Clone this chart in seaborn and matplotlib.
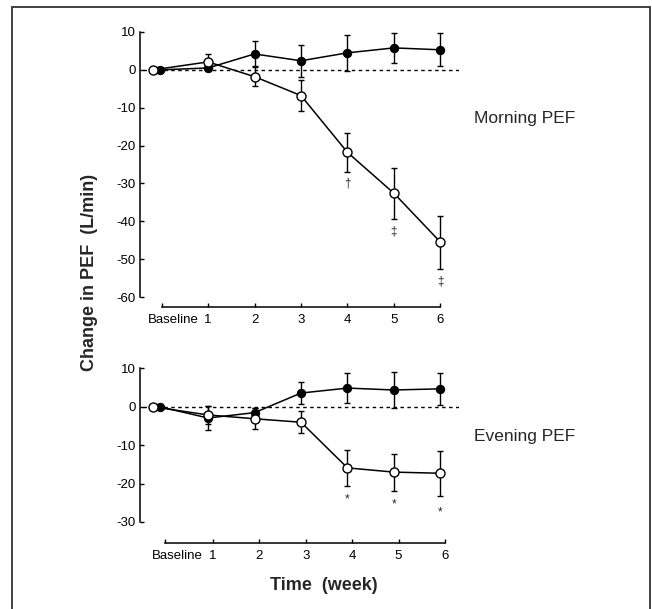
import numpy as np
import pandas as pd
import matplotlib
matplotlib.use('Agg')
import matplotlib.pyplot as plt
import matplotlib.transforms as mtransforms
from matplotlib.patches import Rectangle
import seaborn as sns

# x positions: 0 = baseline, 1..6 = weeks
weeks = [0, 1, 2, 3, 4, 5, 6]
tick_labels = ["Baseline", "1", "2", "3", "4", "5", "6"]

# Morning PEF (change, L/min)
morning_filled = [0, 0.5, 4.2, 2.4, 4.5, 5.8, 5.3]
morning_filled_err = [0, 0, 3.3, 4.2, 4.7, 4.0, 4.4]
morning_open = [0, 2.1, -1.8, -6.8, -21.8, -32.6, -45.5]
morning_open_err = [0, 2.0, 2.5, 4.0, 5.2, 6.7, 7.0]
morning_marks = ["", "", "", "", "\u2020", "\u2021", "\u2021"]
morning_mark_y = [0, 0, 0, 0, -30.0, -42.6, -55.8]

# Evening PEF (change, L/min)
evening_filled = [0, -2.9, -1.5, 3.6, 4.9, 4.4, 4.7]
evening_filled_err = [0, 3.0, 1.3, 2.9, 3.9, 4.8, 4.1]
evening_open = [0, -2.1, -3.1, -4.0, -15.9, -17.0, -17.3]
evening_open_err = [0, 2.4, 2.7, 2.8, 4.6, 4.8, 5.8]
evening_marks = ["", "", "", "", "*", "*", "*"]
evening_mark_y = [0, 0, 0, 0, -24.0, -25.3, -27.4]

sns.set_style("ticks")
plt.rcParams['font.family'] = ['Liberation Sans', 'DejaVu Sans']

W, H = 652, 609
fig = plt.figure(figsize=(W / 100, H / 100), dpi=100)


def px_axes(x0, x1, y_top, y_bot):
    return fig.add_axes([x0 / W, 1 - y_bot / H, (x1 - x0) / W, (y_bot - y_top) / H])


def draw_panel(ax, filled, filled_err, opened, opened_err, marks, mark_y,
               ylim, yticks, tick_shift, x_offset_pt, title, title_y):
    base_shift = {"filled": -0.03, "open": -0.18}
    x_f = [w if w > 0 else base_shift["filled"] for w in weeks]
    x_o = [w if w > 0 else base_shift["open"] for w in weeks]

    ax.axhline(0, color="black", lw=1, ls=(0, (2.5, 2.5)), zorder=1)

    ax.errorbar(x_f, filled, yerr=filled_err, fmt="none", ecolor="black",
                elinewidth=1, capsize=2, capthick=1, zorder=2, clip_on=False)
    ax.errorbar(x_o, opened, yerr=opened_err, fmt="none", ecolor="black",
                elinewidth=1, capsize=2, capthick=1, zorder=2, clip_on=False)

    df_f = pd.DataFrame({"x": x_f, "y": filled})
    df_o = pd.DataFrame({"x": x_o, "y": opened})
    sns.lineplot(data=df_f, x="x", y="y", ax=ax, color="black", lw=1.1,
                 marker="o", markersize=6, markerfacecolor="black",
                 markeredgecolor="black", zorder=3, clip_on=False)
    sns.lineplot(data=df_o, x="x", y="y", ax=ax, color="black", lw=1.1,
                 marker="o", markersize=6.5, markerfacecolor="white",
                 markeredgecolor="black", markeredgewidth=1, zorder=4, clip_on=False)

    for w, m, my in zip(weeks, marks, mark_y):
        if m:
            ax.text(w, my, m, ha="center", va="center", fontsize=8.5)

    ax.set_xlim(-0.4, 6.4)
    ax.set_ylim(*ylim)
    ax.set_yticks(yticks)
    ax.set_yticklabels([str(t) for t in yticks])
    xt = [w + tick_shift for w in weeks]
    xt[0] = weeks[0] + tick_shift * 0.7
    ax.set_xticks(xt)
    ax.set_xticklabels(tick_labels)
    ax.set_xlabel("")
    ax.set_ylabel("")

    for s in ["top", "right"]:
        ax.spines[s].set_visible(False)
    ax.spines["bottom"].set_position(("outward", x_offset_pt))
    ax.spines["bottom"].set_bounds(xt[0], xt[-1])
    ax.spines["left"].set_position(("outward", 2))
    ax.spines["left"].set_bounds(ylim[0], ylim[1])
    for s in ["left", "bottom"]:
        ax.spines[s].set_linewidth(1.1)
        ax.spines[s].set_color("black")

    ax.tick_params(axis="both", direction="in", length=3, width=1,
                   labelsize=9.5, colors="black", pad=3)
    ax.tick_params(axis="x", pad=5)

    # "Baseline" label sits to the right of its tick
    shift = mtransforms.ScaledTranslation(12 / 100, 0, fig.dpi_scale_trans)
    lbl = ax.get_xticklabels()[0]
    lbl.set_transform(lbl.get_transform() + shift)

    fig.text(474 / W, 1 - title_y / H, title, ha="left", va="center", fontsize=12.5)


ax_top = px_axes(143, 459, 32, 297)
draw_panel(ax_top, morning_filled, morning_filled_err, morning_open, morning_open_err,
           morning_marks, morning_mark_y, (-60, 10), [10, 0, -10, -20, -30, -40, -50, -60],
           0.0, 7.2, "Morning PEF", 119)

ax_bot = px_axes(143, 459, 368.5, 522)
draw_panel(ax_bot, evening_filled, evening_filled_err, evening_open, evening_open_err,
           evening_marks, evening_mark_y, (-30, 10), [10, 0, -10, -20, -30],
           0.1, 15, "Evening PEF", 436)

fig.text(89 / W, 1 - 272 / H, "Change in PEF  (L/min)", rotation=90,
         ha="center", va="center", fontsize=13, fontweight="bold")
fig.text(324 / W, 1 - 585 / H, "Time  (week)", ha="center", va="center",
         fontsize=13, fontweight="bold")

# outer frame
fig.patches.append(Rectangle((12 / W, -0.05), (650 - 12) / W, 1.05 - 7 / H,
                             transform=fig.transFigure, fill=False,
                             edgecolor="#333333", lw=1.3))

fig.savefig("out.png", dpi=100)
